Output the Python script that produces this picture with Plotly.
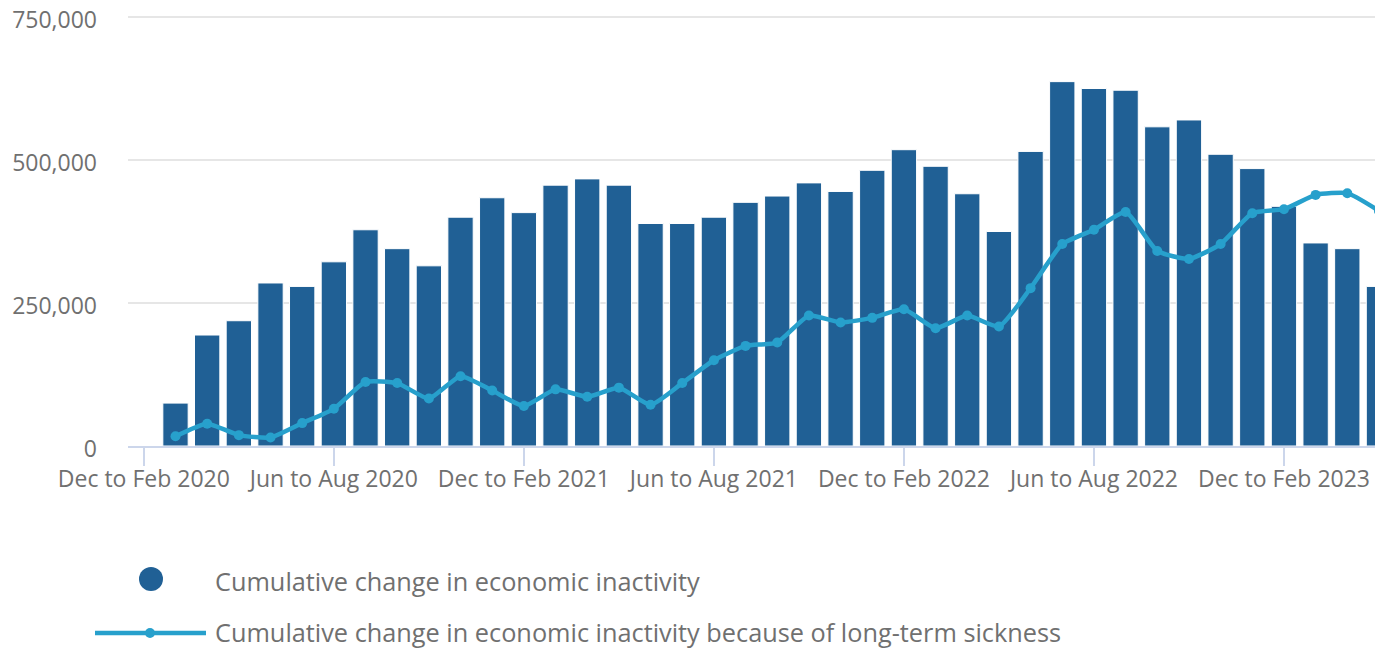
import plotly.graph_objects as go

categories = [
    "Dec to Feb 2020", "Jan to Mar 2020", "Feb to Apr 2020", "Mar to May 2020",
    "Apr to Jun 2020", "May to Jul 2020", "Jun to Aug 2020", "Jul to Sep 2020",
    "Aug to Oct 2020", "Sep to Nov 2020", "Oct to Dec 2020", "Nov to Jan 2021",
    "Dec to Feb 2021", "Jan to Mar 2021", "Feb to Apr 2021", "Mar to May 2021",
    "Apr to Jun 2021", "May to Jul 2021", "Jun to Aug 2021", "Jul to Sep 2021",
    "Aug to Oct 2021", "Sep to Nov 2021", "Oct to Dec 2021", "Nov to Jan 2022",
    "Dec to Feb 2022", "Jan to Mar 2022", "Feb to Apr 2022", "Mar to May 2022",
    "Apr to Jun 2022", "May to Jul 2022", "Jun to Aug 2022", "Jul to Sep 2022",
    "Aug to Oct 2022", "Sep to Nov 2022", "Oct to Dec 2022", "Nov to Jan 2023",
    "Dec to Feb 2023", "Jan to Mar 2023", "Feb to Apr 2023", "Mar to May 2023",
]

inactivity = [
    None, 75000, 194000, 219000, 285000, 279000, 322000, 378000, 345000, 315000,
    400000, 434000, 408000, 456000, 467000, 456000, 389000, 389000, 400000, 426000,
    437000, 460000, 445000, 482000, 518000, 489000, 441000, 375000, 515000, 637000,
    625000, 622000, 558000, 570000, 510000, 485000, 419000, 355000, 345000, 279000,
]

long_term_sickness = [
    None, 17000, 39000, 19000, 15000, 40000, 65000, 112000, 110000, 83000,
    122000, 97000, 70000, 99000, 86000, 102000, 72000, 110000, 150000, 175000,
    181000, 228000, 216000, 224000, 239000, 206000, 228000, 209000, 276000, 353000,
    378000, 409000, 341000, 327000, 353000, 407000, 414000, 439000, 442000, 411000,
]

tick_labels = ["Dec to Feb 2020", "Jun to Aug 2020", "Dec to Feb 2021", "Jun to Aug 2021",
               "Dec to Feb 2022", "Jun to Aug 2022", "Dec to Feb 2023"]
y_ticks = [0, 250000, 500000, 750000]

series_names = ["Cumulative change in economic inactivity",
                "Cumulative change in economic inactivity because of long-term sickness"]

BAR = "#206095"
LINE = "#27a0cc"
TEXT = "#707070"
FONT = "Open Sans"

OFF = 8  # page body margin in the browser
W, H = 1383 - OFF, 649 - OFF
B = 203
L = 128 - OFF
R = 0
T = 3
PW = W - L - R
PH = H - T - B
# 0 .. 750,000 spans 429 px in the reference
y_top = 750000 * PH / 429.0

fig = go.Figure()
fig.add_trace(go.Bar(
    x=categories, y=inactivity, name=series_names[0],
    marker=dict(color=BAR, line=dict(color="white", width=1)),
    showlegend=False, hoverinfo="x+y",
))
fig.add_trace(go.Scatter(
    x=categories, y=long_term_sickness, name=series_names[1],
    mode="lines+markers",
    line=dict(color=LINE, width=4.5, shape="spline", smoothing=0.5),
    marker=dict(color=LINE, size=10),
    showlegend=False, connectgaps=False,
))

px_per_cat = 31.67
x_max = -0.5 + PW / px_per_cat

def px_x(p):
    return (p - OFF - L) / PW

def px_y(p):
    return (T + PH - (p - OFF)) / PH

shapes = [
    dict(type="circle", xref="paper", yref="paper",
         x0=px_x(139), x1=px_x(163), y0=px_y(591), y1=px_y(567),
         fillcolor=BAR, line=dict(width=0)),
    dict(type="line", xref="paper", yref="paper",
         x0=px_x(95), x1=px_x(206), y0=px_y(633), y1=px_y(633),
         line=dict(color=LINE, width=4.5)),
    dict(type="circle", xref="paper", yref="paper",
         x0=px_x(145), x1=px_x(155), y0=px_y(638), y1=px_y(628),
         fillcolor=LINE, line=dict(width=0)),
]

annotations = [
    dict(text=series_names[0], xref="paper", yref="paper",
         x=px_x(214), y=px_y(581), xanchor="left", yanchor="middle",
         showarrow=False, borderpad=0, font=dict(family=FONT, size=25.3, color=TEXT)),
    dict(text=series_names[1], xref="paper", yref="paper",
         x=px_x(214), y=px_y(632), xanchor="left", yanchor="middle",
         showarrow=False, borderpad=0, font=dict(family=FONT, size=25.3, color=TEXT)),
]

fig.update_layout(
    width=W, height=H,
    margin=dict(l=L, r=R, t=T, b=B, pad=0, autoexpand=False),
    paper_bgcolor="white", plot_bgcolor="white",
    bargap=0.2,
    font=dict(family=FONT, color=TEXT, size=23),
    shapes=shapes, annotations=annotations,
    showlegend=False,
    xaxis=dict(
        type="category", range=[-0.5, x_max], automargin=False,
        tickvals=tick_labels, ticktext=tick_labels,
        showgrid=False, showline=True, linecolor="#ccd6eb", linewidth=2,
        ticks="outside", ticklen=18, tickwidth=2, tickcolor="#ccd6eb",
        tickfont=dict(family=FONT, size=23, color=TEXT),
        ticklabelstandoff=-7,
    ),
    yaxis=dict(
        range=[0, y_top], tickvals=y_ticks, tickformat=",", automargin=False,
        showgrid=True, gridcolor="#e6e6e6", gridwidth=1.5,
        zeroline=False, showline=False,
        tickfont=dict(family=FONT, size=23, color=TEXT),
        ticklabelstandoff=30, ticklabeloverflow="allow", ticklabelshift=3,
    ),
)

fig.write_html("out.html")
